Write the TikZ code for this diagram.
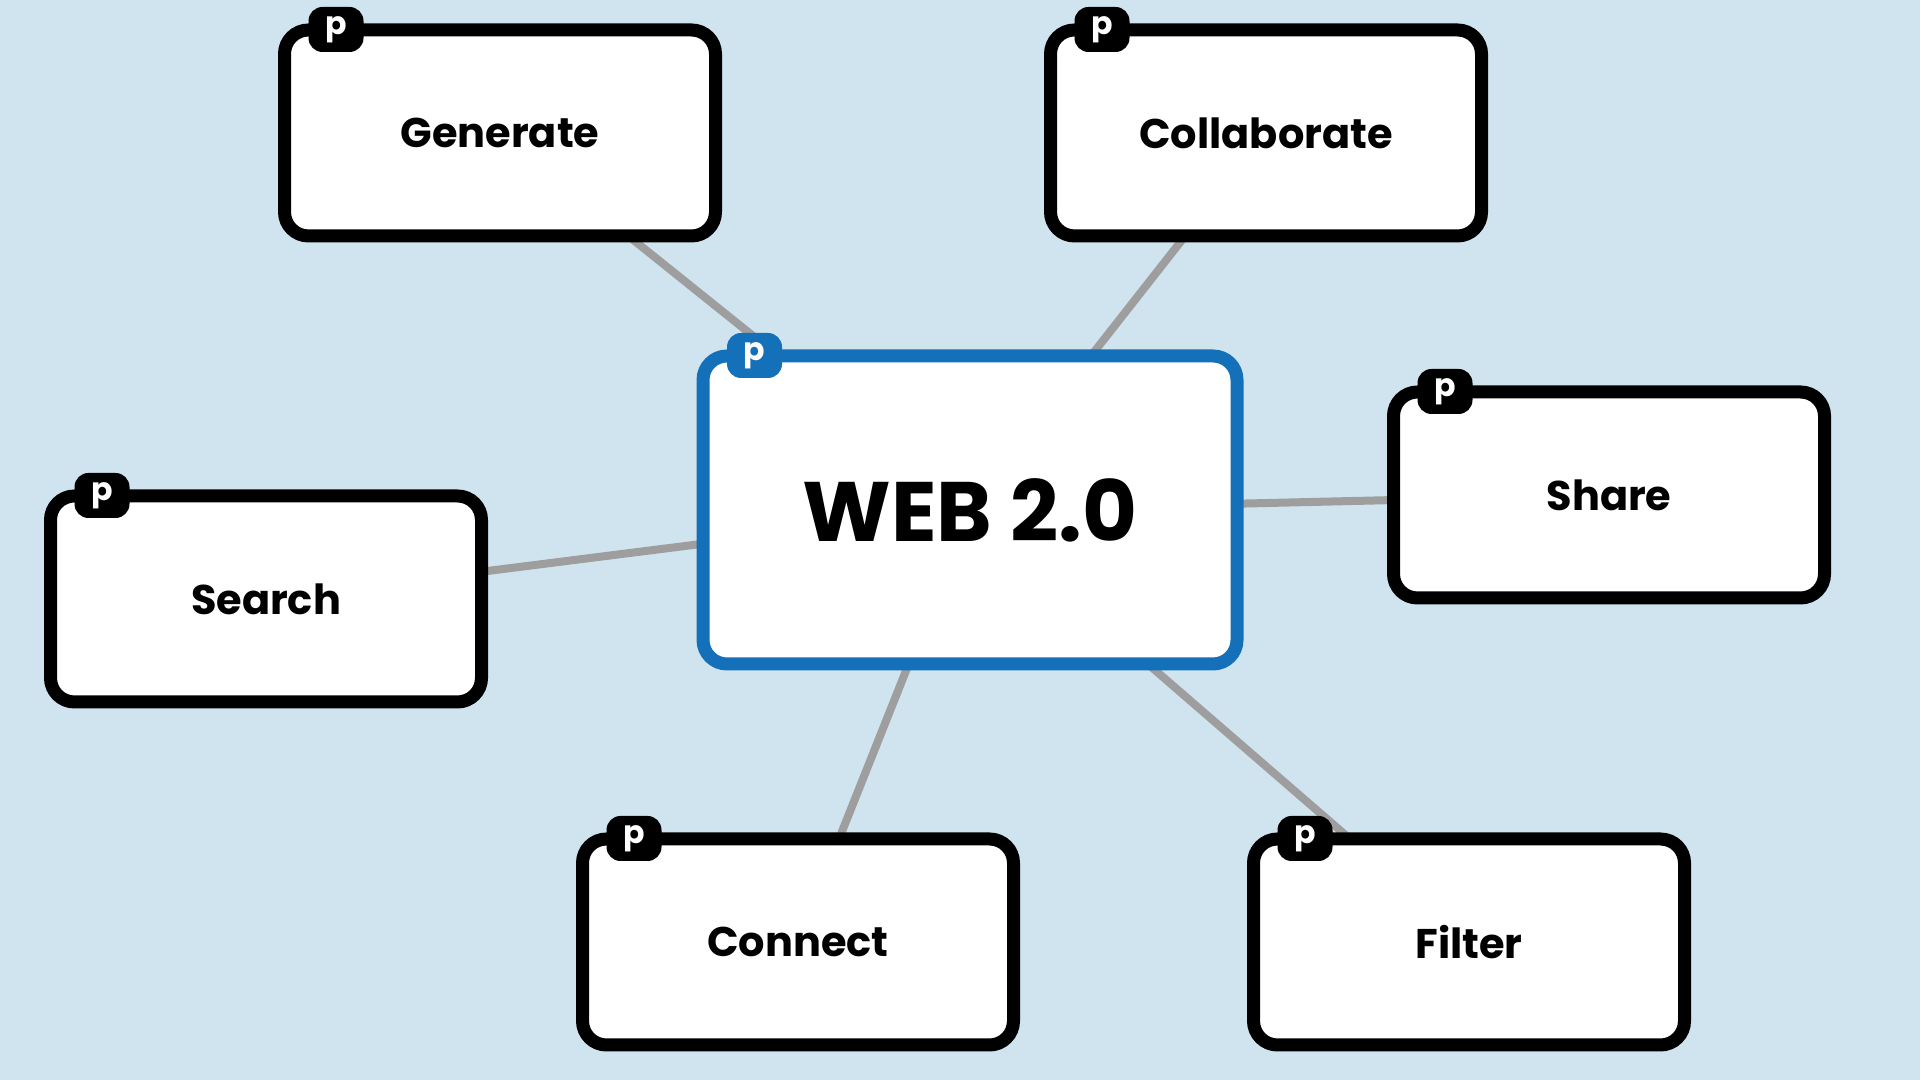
\documentclass[tikz,border=0pt]{standalone}
\usepackage{fontspec}
\setmainfont{Poppins}
\usetikzlibrary{backgrounds}
\definecolor{sky}{HTML}{D0E4F0}
\definecolor{hub}{HTML}{1470B8}
\definecolor{spoke}{HTML}{9E9E9E}

\begin{document}
\begin{tikzpicture}[font=\bfseries\fontsize{11.8}{14}\selectfont,
 idea/.style={draw=black,line width=1.3mm,rounded corners=2.4mm,fill=white,
   minimum width=4.31cm,minimum height=2.06cm},
 ptag/.style={fill=black,text=white,rounded corners=1.4mm,minimum width=.55cm,
   minimum height=.45cm,inner sep=0pt,font=\bfseries\fontsize{9}{9}\selectfont}]
\path[use as bounding box] (0,0) rectangle (19.2,10.8);
% central idea and the six around it
\node[idea,draw=hub,minimum width=5.34cm,minimum height=3.08cm,
  font=\bfseries\fontsize{24}{28}\selectfont] (web) at (9.70,5.70) {WEB 2.0};
\node[idea] (gen) at (5.00,9.47) {Generate};
\node[idea] (col) at (12.66,9.47) {Collaborate};
\node[idea] (sha) at (16.09,5.85) {Share};
\node[idea] (sea) at (2.66,4.81) {Search};
\node[idea] (con) at (7.98,1.38) {Connect};
\node[idea] (fil) at (14.69,1.38) {Filter};
\node[ptag,fill=hub] (web-p) at ([xshift=.58cm,yshift=-.06cm]web.north west) {p};
\foreach \n in {gen,col,sha,sea,con,fil}
  \node[ptag] (\n-p) at ([xshift=.58cm,yshift=-.06cm]\n.north west) {p};
\begin{scope}[on background layer]
\fill[sky] (0,0) rectangle (19.2,10.8);
\foreach \n in {gen,col,sha,sea,con,fil}
  \draw[spoke,line width=.8mm] (web.center) -- (\n.center);
\end{scope}
\end{tikzpicture}
\end{document}
